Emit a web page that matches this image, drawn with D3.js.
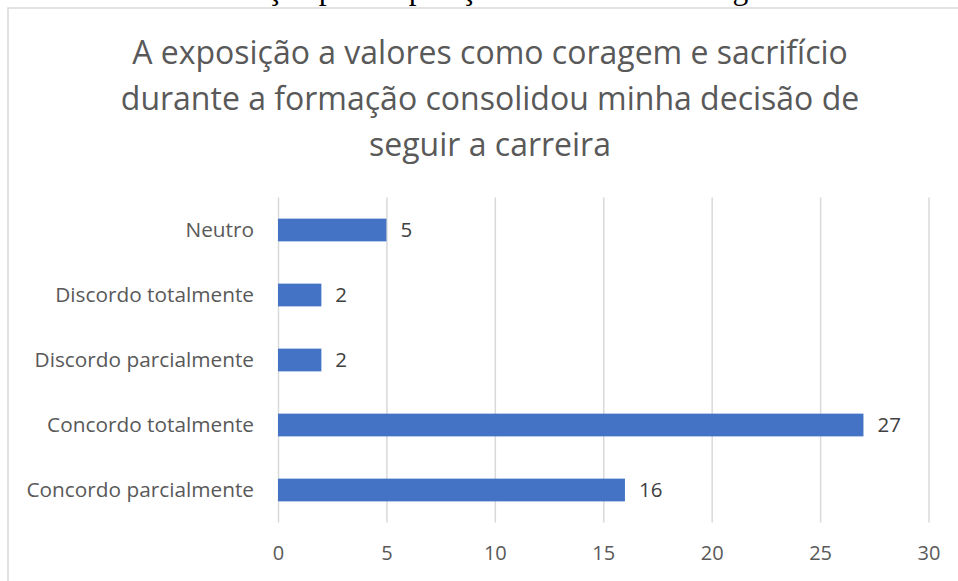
<!DOCTYPE html>
<html>
<head>
<meta charset="utf-8">
<script src="https://cdn.jsdelivr.net/npm/d3@7"></script>
<style>
  body { margin: 0; background: #fff; }
  svg { display: block; }
</style>
</head>
<body>
<div id="chart"></div>
<script>
// answers, top to bottom as in the chart
var categories = ['Neutro', 'Discordo totalmente', 'Discordo parcialmente',
                  'Concordo totalmente', 'Concordo parcialmente'];
var counts = [5, 2, 2, 27, 16];
var xTicks = [0, 5, 10, 15, 20, 25, 30];
var titleLines = ['A exposição a valores como coragem e sacrifício',
                  'durante a formação consolidou minha decisão de',
                  'seguir a carreira'];
var caption = 'Gráfico 8: Contribuição pela exposição a valores de Coragem e Sacrifício';

var W = 958, H = 581;
var labelFont = '"Open Sans", sans-serif';

var svg = d3.select('#chart').append('svg')
    .attr('width', W)
    .attr('height', H);

// caption of the document, cut off by the top edge
svg.append('text')
    .attr('x', 10)
    .attr('y', -1.5)
    .style('font-family', '"Liberation Serif", serif')
    .style('font-size', '31.5px')
    .attr('fill', '#000')
    .text(caption);

// chart frame (runs past the right and bottom edges)
svg.append('rect')
    .attr('x', 8)
    .attr('y', 8)
    .attr('width', W + 20)
    .attr('height', H + 20)
    .attr('fill', 'none')
    .attr('stroke', '#d9d9d9')
    .attr('stroke-width', 1.5);

// title
svg.append('g').selectAll('text')
    .data(titleLines).enter()
    .append('text')
      .attr('x', 490)
      .attr('y', function(d, i) { return 64 + i * 46; })
      .attr('text-anchor', 'middle')
      .style('font-family', '"Open Sans", sans-serif')
      .style('font-size', '32px')
      .attr('fill', '#595959')
      .text(function(d) { return d; });

var plotTop = 197.5, plotBottom = 522.5;

var x = d3.scaleLinear()
    .domain([0, 30])
    .range([278, 928.5]);

var y = d3.scaleBand()
    .domain(categories)
    .range([plotTop, plotBottom])
    .paddingInner(0.65)
    .paddingOuter(0.325);

// vertical gridlines + tick labels
var xAxis = svg.append('g')
    .attr('transform', 'translate(0,' + plotBottom + ')')
    .call(d3.axisBottom(x).tickValues(xTicks).tickSize(-(plotBottom - plotTop)).tickPadding(23));
xAxis.select('.domain').remove();
xAxis.selectAll('line')
    .attr('stroke', '#d9d9d9')
    .attr('stroke-width', 1.5);
xAxis.selectAll('text')
    .style('font-family', labelFont)
    .style('font-size', '20px')
    .attr('fill', '#595959');

// category labels
var yAxis = svg.append('g')
    .attr('transform', 'translate(' + x(0) + ',0)')
    .call(d3.axisLeft(y).tickSize(0).tickPadding(24));
yAxis.select('.domain').remove();
yAxis.selectAll('text')
    .style('font-family', labelFont)
    .style('font-size', '20.8px')
    .attr('fill', '#595959');

// bars
svg.append('g').selectAll('rect')
    .data(counts).enter()
    .append('rect')
      .attr('x', x(0))
      .attr('y', function(d, i) { return y(categories[i]); })
      .attr('width', function(d) { return x(d) - x(0); })
      .attr('height', y.bandwidth())
      .attr('fill', '#4472c4');

// value labels
svg.append('g').selectAll('text')
    .data(counts).enter()
    .append('text')
      .attr('x', function(d) { return x(d) + 14; })
      .attr('y', function(d, i) { return y(categories[i]) + y.bandwidth() / 2; })
      .attr('dy', '0.36em')
      .style('font-family', labelFont)
      .style('font-size', '20.5px')
      .attr('fill', '#404040')
      .text(function(d) { return d; });
</script>
</body>
</html>
